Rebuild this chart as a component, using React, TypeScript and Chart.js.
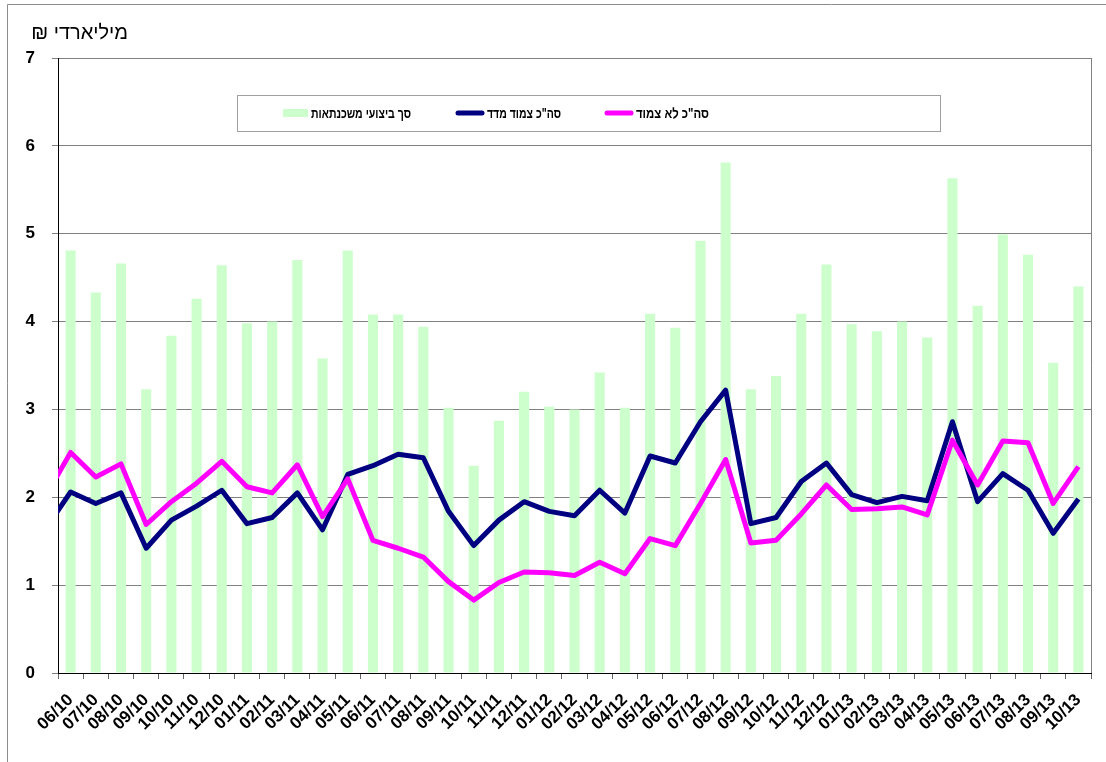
import React, { useEffect, useRef } from 'react';
import { Chart, registerables } from 'chart.js';

Chart.register(...registerables);

// First category (05/10) lies just outside the plotted range: only its clipped line segment shows.
const categories = [
  '05/10',
  '06/10', '07/10', '08/10', '09/10', '10/10', '11/10', '12/10',
  '01/11', '02/11', '03/11', '04/11', '05/11', '06/11', '07/11', '08/11', '09/11', '10/11', '11/11', '12/11',
  '01/12', '02/12', '03/12', '04/12', '05/12', '06/12', '07/12', '08/12', '09/12', '10/12', '11/12', '12/12',
  '01/13', '02/13', '03/13', '04/13', '05/13', '06/13', '07/13', '08/13', '09/13', '10/13',
];

const mortgageTotal = [
  null,
  4.81, 4.33, 4.66, 3.23, 3.84, 4.26, 4.64,
  3.98, 4.0, 4.7, 3.58, 4.81, 4.08, 4.08, 3.94, 3.02, 2.36, 2.87, 3.2,
  3.03, 3.0, 3.42, 3.02, 4.09, 3.93, 4.92, 5.81, 3.23, 3.38, 4.09, 4.65,
  3.97, 3.89, 4.0, 3.82, 5.63, 4.18, 4.99, 4.76, 3.53, 4.4,
];

const indexLinked = [
  1.64,
  2.06, 1.93, 2.05, 1.42, 1.74, 1.9, 2.08,
  1.7, 1.77, 2.05, 1.63, 2.26, 2.36, 2.49, 2.45, 1.84, 1.45, 1.74, 1.95,
  1.84, 1.79, 2.08, 1.82, 2.47, 2.39, 2.86, 3.22, 1.7, 1.77, 2.18, 2.39,
  2.03, 1.94, 2.01, 1.96, 2.86, 1.95, 2.27, 2.08, 1.59, 1.98,
];

const nonLinked = [
  2.01,
  2.51, 2.23, 2.38, 1.69, 1.95, 2.16, 2.41,
  2.12, 2.05, 2.37, 1.78, 2.21, 1.51, 1.42, 1.32, 1.04, 0.83, 1.03, 1.15,
  1.14, 1.11, 1.26, 1.13, 1.53, 1.45, 1.93, 2.43, 1.48, 1.51, 1.81, 2.14,
  1.86, 1.87, 1.89, 1.8, 2.65, 2.14, 2.64, 2.62, 1.93, 2.35,
];

const yMin = 0;
const yMax = 7;
const yStep = 1;

const legendLabels = ['סך ביצועי משכנתאות', 'סה"כ צמוד מדד', 'סה"כ לא צמוד'];
const yTitle = 'מיליארדי ₪';

const FONT = '"Liberation Sans", Arial, Helvetica, sans-serif';

// draws text starting at x (left edge), squeezed horizontally to fit a given width
function fitText(ctx: any, text: string, x: number, y: number, maxW: number) {
  const w = ctx.measureText(text).width;
  const sx = w > maxW ? maxW / w : 1;
  ctx.save();
  ctx.translate(x, y);
  ctx.scale(sx, 1);
  ctx.textAlign = 'left';
  ctx.fillText(text, 0, 0);
  ctx.restore();
}

const decorPlugin = {
  id: 'decor',
  beforeDraw(chart: any) {
    const { ctx, width, height } = chart;
    ctx.save();
    ctx.fillStyle = '#ffffff';
    ctx.fillRect(0, 0, width, height);
    ctx.strokeStyle = '#8c8c8c';
    ctx.lineWidth = 1;
    ctx.beginPath();
    ctx.moveTo(7.5, height);
    ctx.lineTo(7.5, 4.5);
    ctx.lineTo(width, 4.5);
    ctx.stroke();
    ctx.restore();
  },
  afterDraw(chart: any) {
    const { ctx, chartArea: a } = chart;
    const ds = chart.data.datasets;
    ctx.save();
    // plot-area right border
    const rx = Math.round(a.right) + 0.5;
    ctx.strokeStyle = '#808080';
    ctx.lineWidth = 1;
    ctx.beginPath();
    ctx.moveTo(rx, a.top);
    ctx.lineTo(rx, a.bottom);
    ctx.stroke();

    // y-axis unit title
    ctx.fillStyle = '#000';
    ctx.font = `20px ${FONT}`;
    ctx.direction = 'rtl';
    ctx.textAlign = 'right';
    ctx.textBaseline = 'middle';
    ctx.fillText(yTitle, 128, 33);

    // legend box
    ctx.direction = 'ltr';
    ctx.fillStyle = '#ffffff';
    ctx.fillRect(237, 95, 703, 36);
    ctx.strokeStyle = '#a0a0a0';
    ctx.strokeRect(237.5, 95.5, 703, 36);

    const cy = 113;
    // bar swatch
    ctx.fillStyle = ds[0].backgroundColor;
    ctx.fillRect(283, 109, 25, 8);
    // line swatches
    const drawLine = (x0: number, x1: number, color: string) => {
      ctx.strokeStyle = color;
      ctx.lineWidth = 5;
      ctx.lineCap = 'round';
      ctx.beginPath();
      ctx.moveTo(x0, cy);
      ctx.lineTo(x1, cy);
      ctx.stroke();
    };
    drawLine(458, 482, ds[1].borderColor);
    drawLine(607, 631, ds[2].borderColor);

    ctx.fillStyle = '#000';
    ctx.font = `bold 14px ${FONT}`;
    ctx.direction = 'rtl';
    ctx.textBaseline = 'middle';
    fitText(ctx, legendLabels[0], 311, cy + 1, 100);
    fitText(ctx, legendLabels[1], 487, cy + 1, 74);
    fitText(ctx, legendLabels[2], 636, cy + 1, 73);
    ctx.restore();
  },
};

export default function App() {
  const ref = useRef<HTMLCanvasElement>(null);

  useEffect(() => {
    if (!ref.current) return;
    const chart = new Chart(ref.current, {
      type: 'bar',
      data: {
        labels: categories,
        datasets: [
          {
            type: 'bar',
            label: legendLabels[0],
            data: mortgageTotal,
            backgroundColor: '#ccffcc',
            borderWidth: 0,
            categoryPercentage: 1,
            barPercentage: 0.4,
            order: 3,
          },
          {
            type: 'line',
            label: legendLabels[1],
            data: indexLinked,
            borderColor: '#000080',
            backgroundColor: '#000080',
            borderWidth: 5,
            pointRadius: 0,
            borderJoinStyle: 'round',
            tension: 0,
            order: 2,
          },
          {
            type: 'line',
            label: legendLabels[2],
            data: nonLinked,
            borderColor: '#ff00ff',
            backgroundColor: '#ff00ff',
            borderWidth: 5,
            pointRadius: 0,
            borderJoinStyle: 'round',
            tension: 0,
            order: 1,
          },
        ] as any,
      },
      options: {
        animation: false,
        responsive: true,
        maintainAspectRatio: false,
        layout: { padding: { top: 58, right: 15, left: 0, bottom: 0 } },
        plugins: {
          legend: { display: false },
          tooltip: { enabled: false },
          title: { display: false },
        },
        scales: {
          x: {
            type: 'category',
            min: categories[1],
            max: categories[categories.length - 1],
            offset: true,
            grid: {
              offset: true,
              drawOnChartArea: false,
              drawTicks: true,
              tickLength: 6,
              tickColor: '#666666',
            },
            border: { color: '#000000', width: 1 },
            ticks: {
              autoSkip: false,
              maxRotation: 45,
              minRotation: 45,
              padding: 11,
              color: '#000',
              font: { family: FONT, size: 17, weight: 'bold' },
            },
            afterFit: (s: any) => {
              s.height = 89;
            },
          },
          y: {
            min: yMin,
            max: yMax,
            grid: {
              color: '#808080',
              drawTicks: true,
              tickLength: 6,
              tickColor: '#808080',
            },
            border: { color: '#000000', width: 1 },
            ticks: {
              stepSize: yStep,
              padding: 17,
              color: '#000',
              font: { family: FONT, size: 17, weight: 'bold' },
            },
            afterFit: (s: any) => {
              s.width = 58;
            },
          },
        },
      } as any,
      plugins: [decorPlugin],
    });
    return () => chart.destroy();
  }, []);

  return (
    <div style={{ position: 'absolute', left: 0, top: 0, width: 1106, height: 762 }}>
      <canvas ref={ref} />
    </div>
  );
}
